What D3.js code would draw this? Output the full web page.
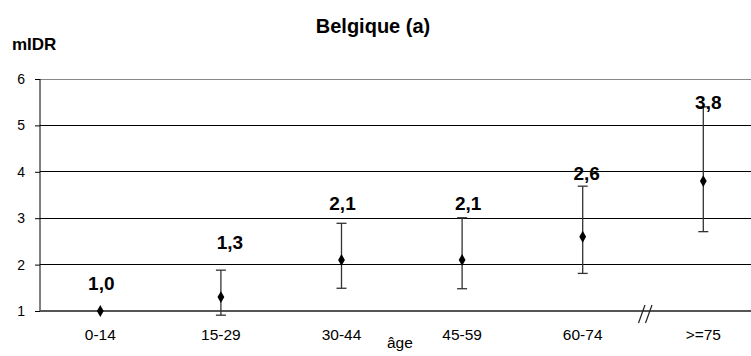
<!DOCTYPE html>
<html><head><meta charset="utf-8">
<script src="https://cdn.jsdelivr.net/npm/d3@7"></script>
<style>body{margin:0;background:#fff}svg{display:block}text{font-family:"Liberation Sans",Arial,sans-serif}</style>
</head><body>
<script>
const categories = ["0-14","15-29","30-44","45-59","60-74",">=75"];
const values = [1.0, 1.3, 2.1, 2.1, 2.6, 3.8];
const lower = [1.0, 0.91, 1.49, 1.48, 1.81, 2.71];
const upper = [1.0, 1.88, 2.89, 3.01, 3.69, 5.4];
const valueLabels = ["1,0","1,3","2,1","2,1","2,6","3,8"];
const labelAt = [1.6, 2.49, 3.33, 3.33, 3.97, 5.5];
const yTicks = [1,2,3,4,5,6];

const W = 751, H = 356;
const FONT = '"Liberation Sans",Arial,sans-serif';
const svg = d3.select("body").append("svg").attr("width", W).attr("height", H);
const x = d3.scaleBand().domain(categories).range([40, 763.6]).padding(0);
const y = d3.scaleLinear().domain([1, 6]).range([311, 79]);
const cx = c => x(c) + x.bandwidth()/2;

// gridlines
svg.append("g").selectAll("line").data(yTicks.filter(t => t > 1)).join("line")
  .attr("x1", 40).attr("x2", W).attr("y1", d => y(d)).attr("y2", d => y(d))
  .attr("stroke", d => d === 6 ? "#888" : "#000").attr("stroke-width", 1).attr("shape-rendering","crispEdges");

// y axis
const ya = svg.append("g").attr("transform", "translate(40,0)")
  .call(d3.axisLeft(y).tickValues(yTicks).tickSize(5).tickPadding(10).tickFormat(d3.format("d")));
ya.select(".domain").attr("stroke", "#000").attr("d", `M0,${y(6)}V${y(1)}`);
ya.selectAll(".tick line").attr("stroke", "#000");
ya.selectAll("text").attr("font-size", 14).attr("fill", "#000").attr("font-family", FONT);

// x axis
const xa = svg.append("g").attr("transform", `translate(0,${y(1)})`)
  .call(d3.axisBottom(x).tickSize(0).tickPadding(18));
xa.select(".domain").attr("stroke", "#555").attr("stroke-width", 2.2).attr("d", `M40,0H${W}`);
xa.selectAll("text").attr("font-size", 15.5).attr("fill", "#000").attr("font-family", FONT);

// axis break
const bx = x(">=75") - 1;
const brk = svg.append("g").attr("stroke", "#222").attr("stroke-width", 1.2);
[0, 7].forEach(o => brk.append("line")
  .attr("x1", bx + o - 3.5).attr("y1", y(1) + 12).attr("x2", bx + o + 3).attr("y2", y(1) - 6));

// error bars
const eb = svg.append("g").attr("stroke", "#333").attr("stroke-width", 1.3);
categories.forEach((c, i) => {
  if (upper[i] === lower[i]) return;
  eb.append("line").attr("x1", cx(c)).attr("x2", cx(c)).attr("y1", y(lower[i])).attr("y2", y(upper[i]));
  [lower[i], upper[i]].forEach(v => eb.append("line")
    .attr("x1", cx(c) - 5).attr("x2", cx(c) + 5).attr("y1", y(v)).attr("y2", y(v)));
});

// points
svg.append("g").selectAll("path").data(categories).join("path")
  .attr("d", d3.symbol(d3.symbolDiamond, 40))
  .attr("transform", (c, i) => `translate(${cx(c)},${y(values[i])})`)
  .attr("fill", "#000");

// value labels
svg.append("g").selectAll("text").data(categories).join("text")
  .attr("x", (c, i) => cx(c) + [1, 9, 1, 6, 4, 5][i])
  .attr("y", (c, i) => y(labelAt[i]))
  .attr("dy", "0.35em").attr("text-anchor", "middle")
  .attr("font-size", 19).attr("font-weight", "bold").text((c, i) => valueLabels[i]);

// titles
svg.append("text").attr("x", 373).attr("y", 33).attr("text-anchor", "middle")
  .attr("font-size", 20).attr("font-weight", "bold").text("Belgique (a)");
svg.append("text").attr("x", 12).attr("y", 50).attr("font-size", 17).attr("font-weight", "bold").text("mIDR");
svg.append("text").attr("x", 387).attr("y", 348).attr("font-size", 15.5).text("âge");
</script>
</body></html>
